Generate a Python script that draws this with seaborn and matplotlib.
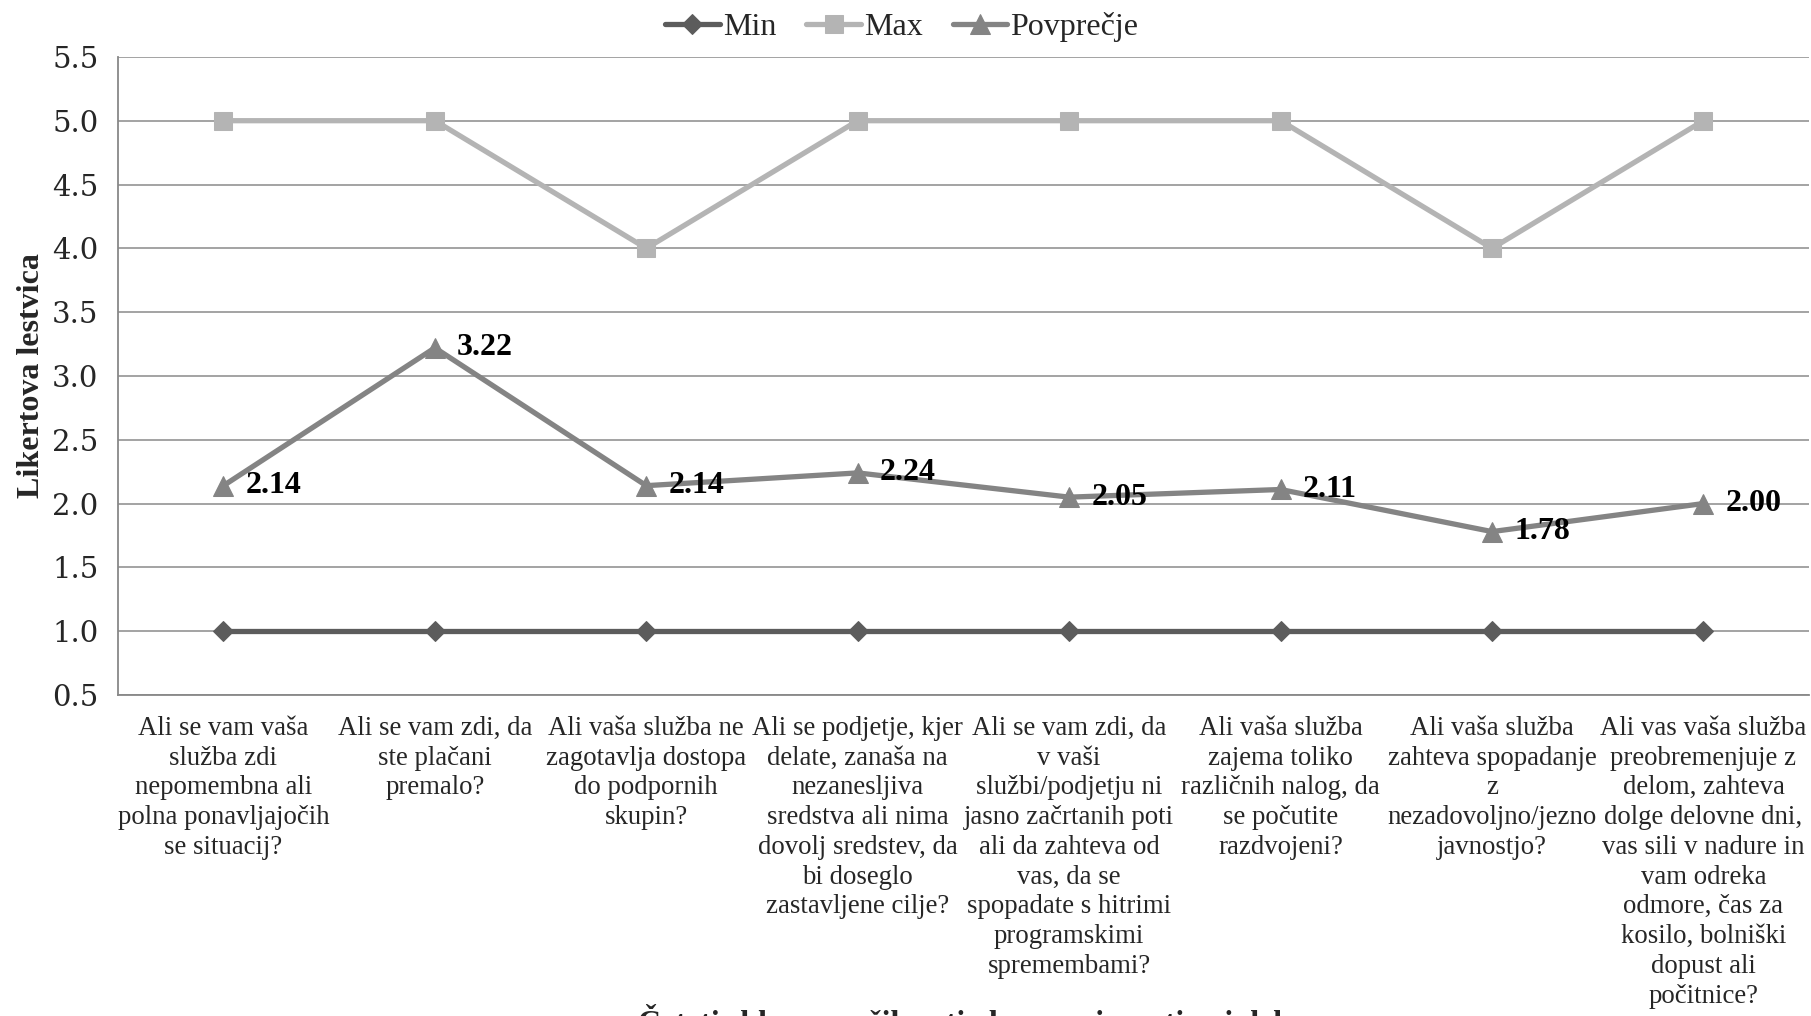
import matplotlib
matplotlib.use("Agg")
import matplotlib.pyplot as plt
from matplotlib.ticker import MultipleLocator, FixedLocator, FormatStrFormatter
import seaborn as sns
import pandas as pd

# Question labels (x categories), wrapped as shown under the axis
categories = [
    "Ali se vam vaša\nslužba zdi\nnepomembna ali\npolna ponavljajočih\nse situacij?",
    "Ali se vam zdi, da\nste plačani\npremalo?",
    "Ali vaša služba ne\nzagotavlja dostopa\ndo podpornih\nskupin?",
    "Ali se podjetje, kjer\ndelate, zanaša na\nnezanesljiva\nsredstva ali nima\ndovolj sredstev, da\nbi doseglo\nzastavljene cilje?",
    "Ali se vam zdi, da\nv vaši\nslužbi/podjetju ni\njasno začrtanih poti\nali da zahteva od\nvas, da se\nspopadate s hitrimi\nprogramskimi\nspremembami?",
    "Ali vaša služba\nzajema toliko\nrazličnih nalog, da\nse počutite\nrazdvojeni?",
    "Ali vaša služba\nzahteva spopadanje\nz\nnezadovoljno/jezno\njavnostjo?",
    "Ali vas vaša služba\npreobremenjuje z\ndelom, zahteva\ndolge delovne dni,\nvas sili v nadure in\nvam odreka\nodmore, čas za\nkosilo, bolniški\ndopust ali\npočitnice?",
]
min_vals = [1, 1, 1, 1, 1, 1, 1, 1]
max_vals = [5, 5, 4, 5, 5, 5, 4, 5]
avg_vals = [2.14, 3.22, 2.14, 2.24, 2.05, 2.11, 1.78, 2.00]
series_names = ["Min", "Max", "Povprečje"]

sns.set_theme(style="white")
plt.rcParams["font.family"] = ["Liberation Serif", "DejaVu Serif"]

rows = []
for name, vals in zip(series_names, [min_vals, max_vals, avg_vals]):
    for i, v in enumerate(vals):
        rows.append({"q": i, "value": v, "serija": name})
df = pd.DataFrame(rows)

fig = plt.figure(figsize=(18.11, 10.16), dpi=100)
ax = fig.add_axes([0.065, 0.316, 0.934, 0.628])

palette = {"Min": "#5c5c5c", "Max": "#b4b4b4", "Povprečje": "#848484"}
markers = {"Min": "D", "Max": "s", "Povprečje": "^"}
sizes = {"Min": 10, "Max": 12.5, "Povprečje": 14}

for name in series_names:
    sub = df[df["serija"] == name]
    sns.lineplot(data=sub, x="q", y="value", ax=ax, color=palette[name],
                 marker=markers[name], markersize=sizes[name],
                 markeredgecolor=palette[name], linewidth=3.8,
                 label=name, legend=False)

# value labels on the average series
for i, v in enumerate(avg_vals):
    ax.annotate(f"{v:.2f}", (i, v), xytext=(16, 0), textcoords="offset points",
                ha="left", va="center", fontsize=23, fontweight="bold",
                color="black")

ax.set_xlim(-0.5, len(categories) - 0.5)
ax.set_ylim(0.5, 5.5)
ax.yaxis.set_major_locator(MultipleLocator(0.5))
ax.yaxis.set_major_formatter(FormatStrFormatter("%.1f"))
ax.grid(axis="y", color="#8a8a8a", linewidth=1.1)
ax.set_axisbelow(True)

ax.set_xticks(range(len(categories)))
ax.set_xticklabels(categories, fontsize=19.3, linespacing=1.25, va="top")
ax.xaxis.set_minor_locator(FixedLocator([i - 0.5 for i in range(len(categories) + 1)]))
ax.tick_params(axis="x", which="major", length=0, pad=15)
ax.tick_params(axis="x", which="minor", length=8, color="#888888", width=1.2,
               direction="out")
ax.tick_params(axis="y", length=8, color="#888888", width=1.2, direction="out",
               pad=6)
for lbl in ax.get_yticklabels():
    lbl.set_fontfamily("DejaVu Serif")
    lbl.set_fontsize(21)

for s in ["top", "right"]:
    ax.spines[s].set_visible(False)
for s in ["left", "bottom"]:
    ax.spines[s].set_color("#888888")
    ax.spines[s].set_linewidth(1.3)

ax.set_ylabel("Likertova lestvica", fontsize=23, fontweight="bold", labelpad=4)
ax.set_xlabel("")
fig.text(0.535, -0.016, "Četrti sklop: značilnosti obremenjenosti pri delu",
         ha="center", va="baseline", fontsize=23, fontweight="bold")

handles, labels = ax.get_legend_handles_labels()
fig.legend(handles, labels, loc="center", bbox_to_anchor=(0.498, 0.973), ncol=3,
           frameon=False, fontsize=23, handlelength=1.7, columnspacing=0.95,
           handletextpad=0.1)

fig.savefig("out.png", dpi=100)
